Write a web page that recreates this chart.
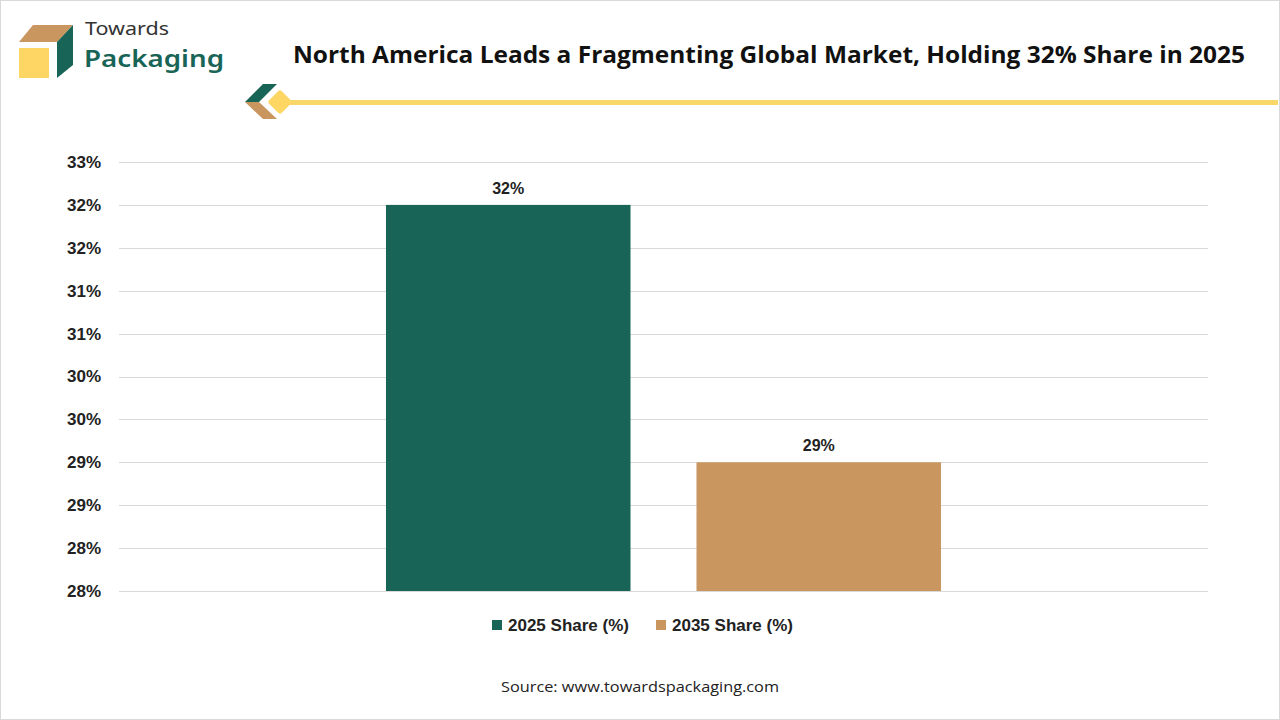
<!DOCTYPE html>
<html>
<head>
<meta charset="utf-8">
<script src="https://cdn.jsdelivr.net/npm/d3@7"></script>
<style>
  body { margin: 0; background: #fff; }
  svg { display: block; }
</style>
</head>
<body>
<div id="chart"></div>
<script>
const categories = ["North America"];
const seriesNames = ["2025 Share (%)", "2035 Share (%)"];
const seriesValues = [32, 29];
const seriesColors = ["#186456", "#c9965f"];
const yTicks = [27.5, 28, 28.5, 29, 29.5, 30, 30.5, 31, 31.5, 32, 32.5];

const width = 1280;
const height = 720;

const margin = {
  top: 162,
  left: 119,
  bottom: 129,
  right: 72
};

const plotWidth = width - margin.left - margin.right;
const plotHeight = height - margin.top - margin.bottom;

const svg = d3
  .select("#chart")
  .append("svg")
  .attr("width", width)
  .attr("height", height);

// frame
svg
  .append("rect")
  .attr("x", 0.5)
  .attr("y", 0.5)
  .attr("width", width - 1)
  .attr("height", height - 1)
  .attr("fill", "#fff")
  .attr("stroke", "#d9d9d9");

// logo
const logo = svg.append("g");
logo.append("polygon").attr("points", "19,42 33,25 73,25 57,42").attr("fill", "#c9965f");
logo.append("polygon").attr("points", "57,42 73,25 73,65 57,78").attr("fill", "#186456");
logo.append("rect").attr("x", 19).attr("y", 48).attr("width", 30).attr("height", 30).attr("fill", "#fdd663");
logo
  .append("text")
  .attr("x", 85)
  .attr("y", 35)
  .attr("font-family", "'Noto Sans', sans-serif")
  .attr("font-size", 18)
  .attr("textLength", 84)
  .attr("lengthAdjust", "spacingAndGlyphs")
  .attr("fill", "#333")
  .text("Towards");
logo
  .append("text")
  .attr("x", 84)
  .attr("y", 67)
  .attr("font-family", "'Noto Sans', sans-serif")
  .attr("font-weight", 600)
  .attr("font-size", 24)
  .attr("textLength", 140)
  .attr("lengthAdjust", "spacingAndGlyphs")
  .attr("fill", "#186456")
  .text("Packaging");

// title
svg
  .append("text")
  .attr("x", 293)
  .attr("y", 63)
  .attr("font-family", "'Open Sans', sans-serif")
  .attr("font-weight", 700)
  .attr("font-size", 24)
  .attr("textLength", 952)
  .attr("lengthAdjust", "spacingAndGlyphs")
  .attr("fill", "#111")
  .text("North America Leads a Fragmenting Global Market, Holding 32% Share in 2025");

// title decoration
const deco = svg.append("g");
deco.append("rect").attr("x", 285).attr("y", 100).attr("width", 993).attr("height", 5).attr("fill", "#f8d768");
deco.append("polygon").attr("points", "245,102 263,84 277,84 259,102").attr("fill", "#186456");
deco.append("polygon").attr("points", "245,102 259,102 277,119 263,119").attr("fill", "#c9965f");
deco
  .append("rect")
  .attr("x", 271)
  .attr("y", 93)
  .attr("width", 18)
  .attr("height", 18)
  .attr("rx", 3)
  .attr("fill", "#fdd663")
  .attr("transform", "rotate(45,280,102)");

const yScale = d3
  .scaleLinear()
  .domain([27.5, 32.5])
  .range([plotHeight, 0]);

const x0 = d3
  .scaleBand()
  .domain(categories)
  .range([0, plotWidth])
  .paddingOuter(0.481);

const x1 = d3
  .scaleBand()
  .domain(seriesNames)
  .range([0, x0.bandwidth()])
  .paddingInner(0.2125);

const plotG = svg
  .append("g")
  .attr("transform", `translate(${margin.left},${margin.top})`);

// grid
plotG
  .append("g")
  .selectAll("line")
  .data(yTicks)
  .enter()
  .append("line")
  .attr("x1", 0)
  .attr("x2", plotWidth)
  .attr("y1", d => Math.round(yScale(d)) + 0.5)
  .attr("y2", d => Math.round(yScale(d)) + 0.5)
  .attr("stroke", "#d9d9d9");

const yAxis = d3
  .axisLeft(yScale)
  .tickValues(yTicks)
  .tickSize(0)
  .tickPadding(18)
  .tickFormat(d => Math.round(d) + "%");

const yAxisG = plotG.append("g").call(yAxis);
yAxisG.select(".domain").remove();
yAxisG
  .selectAll("text")
  .attr("font-family", "'Liberation Sans', Arial, sans-serif")
  .attr("font-weight", 700)
  .attr("font-size", 17)
  .attr("fill", "#222");

const bars = plotG
  .selectAll(".bar")
  .data(seriesNames)
  .enter()
  .append("g")
  .attr("class", "bar");

bars
  .append("rect")
  .attr("x", d => x0(categories[0]) + x1(d))
  .attr("y", (d, i) => yScale(seriesValues[i]))
  .attr("width", x1.bandwidth())
  .attr("height", (d, i) => plotHeight - yScale(seriesValues[i]))
  .attr("fill", (d, i) => seriesColors[i]);

bars
  .append("text")
  .attr("x", d => x0(categories[0]) + x1(d) + x1.bandwidth() / 2)
  .attr("y", (d, i) => yScale(seriesValues[i]) - 11)
  .attr("text-anchor", "middle")
  .attr("font-family", "'Liberation Sans', Arial, sans-serif")
  .attr("font-weight", 700)
  .attr("font-size", 16)
  .attr("fill", "#222")
  .text((d, i) => seriesValues[i] + "%");

// legend
const legendX = [492, 656];
const legend = svg
  .selectAll(".legend")
  .data(seriesNames)
  .enter()
  .append("g")
  .attr("class", "legend")
  .attr("transform", (d, i) => `translate(${legendX[i]},620)`);

legend
  .append("rect")
  .attr("width", 10)
  .attr("height", 10)
  .attr("fill", (d, i) => seriesColors[i]);

legend
  .append("text")
  .attr("x", 16)
  .attr("y", 11)
  .attr("font-family", "'Liberation Sans', Arial, sans-serif")
  .attr("font-weight", 700)
  .attr("font-size", 17)
  .attr("fill", "#222")
  .text(d => d);

// source
svg
  .append("text")
  .attr("x", 640)
  .attr("y", 692)
  .attr("text-anchor", "middle")
  .attr("font-family", "'Open Sans', sans-serif")
  .attr("font-size", 15)
  .attr("textLength", 278)
  .attr("lengthAdjust", "spacingAndGlyphs")
  .attr("fill", "#222")
  .text("Source: www.towardspackaging.com");
</script>
</body>
</html>
